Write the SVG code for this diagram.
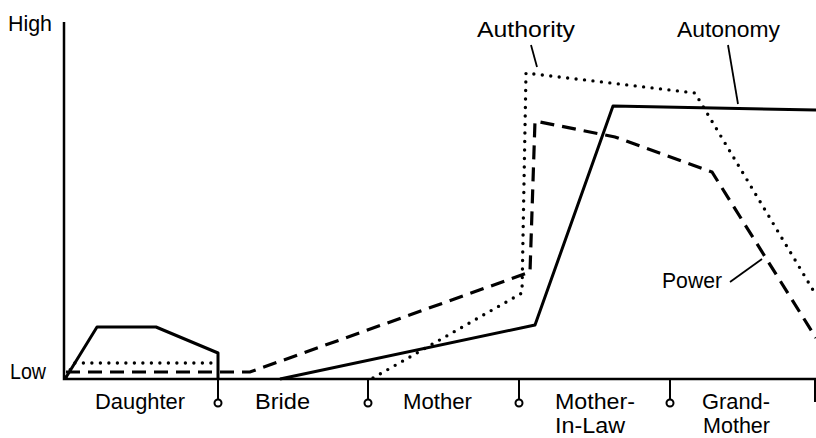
<svg xmlns="http://www.w3.org/2000/svg" width="816" height="438" viewBox="0 0 816 438">
<style>
text{font-family:"Liberation Sans",Arial,sans-serif;font-size:22px;fill:#000}
.ax{stroke:#000;stroke-width:2.5;fill:none}
.tick{stroke:#000;stroke-width:2;fill:none}
.dot{fill:#fff;stroke:#000;stroke-width:2}
.solid{stroke:#000;stroke-width:3;fill:none;stroke-linejoin:round}
.dash{stroke:#000;stroke-width:3.2;fill:none;stroke-dasharray:14 8}
.dotted{stroke:#000;stroke-width:3.4;fill:none;stroke-dasharray:0 8.5;stroke-linecap:round}
.lead{stroke:#000;stroke-width:1.8;fill:none}
</style>
<rect width="816" height="438" fill="#fff"/>
<g id="axes">
<path class="ax" d="M64,22 V379 H816"/>
<text x="8" y="31" textLength="44" lengthAdjust="spacingAndGlyphs">High</text>
<text x="10" y="379" textLength="36" lengthAdjust="spacingAndGlyphs">Low</text>
</g>
<g id="ticks">
<path class="tick" d="M218,379 V399 M368,379 V399 M519,379 V399 M670,379 V399 M815,379 V402"/>
<circle class="dot" cx="218" cy="403" r="3.5"/>
<circle class="dot" cx="368" cy="403" r="3.5"/>
<circle class="dot" cx="519" cy="403" r="3.5"/>
<circle class="dot" cx="670" cy="403" r="3.5"/>
</g>
<g id="stages">
<text x="95" y="409" textLength="90" lengthAdjust="spacingAndGlyphs">Daughter</text>
<text x="255" y="409" textLength="55" lengthAdjust="spacingAndGlyphs">Bride</text>
<text x="403" y="409" textLength="69" lengthAdjust="spacingAndGlyphs">Mother</text>
<text x="555" y="409" textLength="80" lengthAdjust="spacingAndGlyphs">Mother-</text>
<text x="555" y="433" textLength="70" lengthAdjust="spacingAndGlyphs">In-Law</text>
<text x="702" y="409" textLength="68" lengthAdjust="spacingAndGlyphs">Grand-</text>
<text x="703" y="433" textLength="67" lengthAdjust="spacingAndGlyphs">Mother</text>
</g>
<g id="connectors">
<g id="autonomy">
<path class="solid" d="M65,379 L97,327 L156,327 L218,353 L218,379"/>
<path class="solid" d="M280,379 L535,325 L613,106 L816,110"/>
</g>
<g id="power">
<path class="dash" d="M66,372 L250,372 L530,272 L535,121 L615,137 L712,172 L816,338"/>
</g>
<g id="authority">
<path class="dotted" d="M66,377 L74,363 L217,363"/>
<path class="dotted" d="M373,378 L522,293 L526,73 L695,93 L816,295"/>
</g>
</g>
<g id="labels">
<text x="477" y="37" textLength="98" lengthAdjust="spacingAndGlyphs">Authority</text>
<path class="lead" d="M531,45 L537,67"/>
<text x="677" y="37" textLength="103" lengthAdjust="spacingAndGlyphs">Autonomy</text>
<path class="lead" d="M728,45 L738,104"/>
<text x="662" y="288" textLength="60" lengthAdjust="spacingAndGlyphs">Power</text>
<path class="lead" d="M730,282 L762,259"/>
</g>
</svg>
